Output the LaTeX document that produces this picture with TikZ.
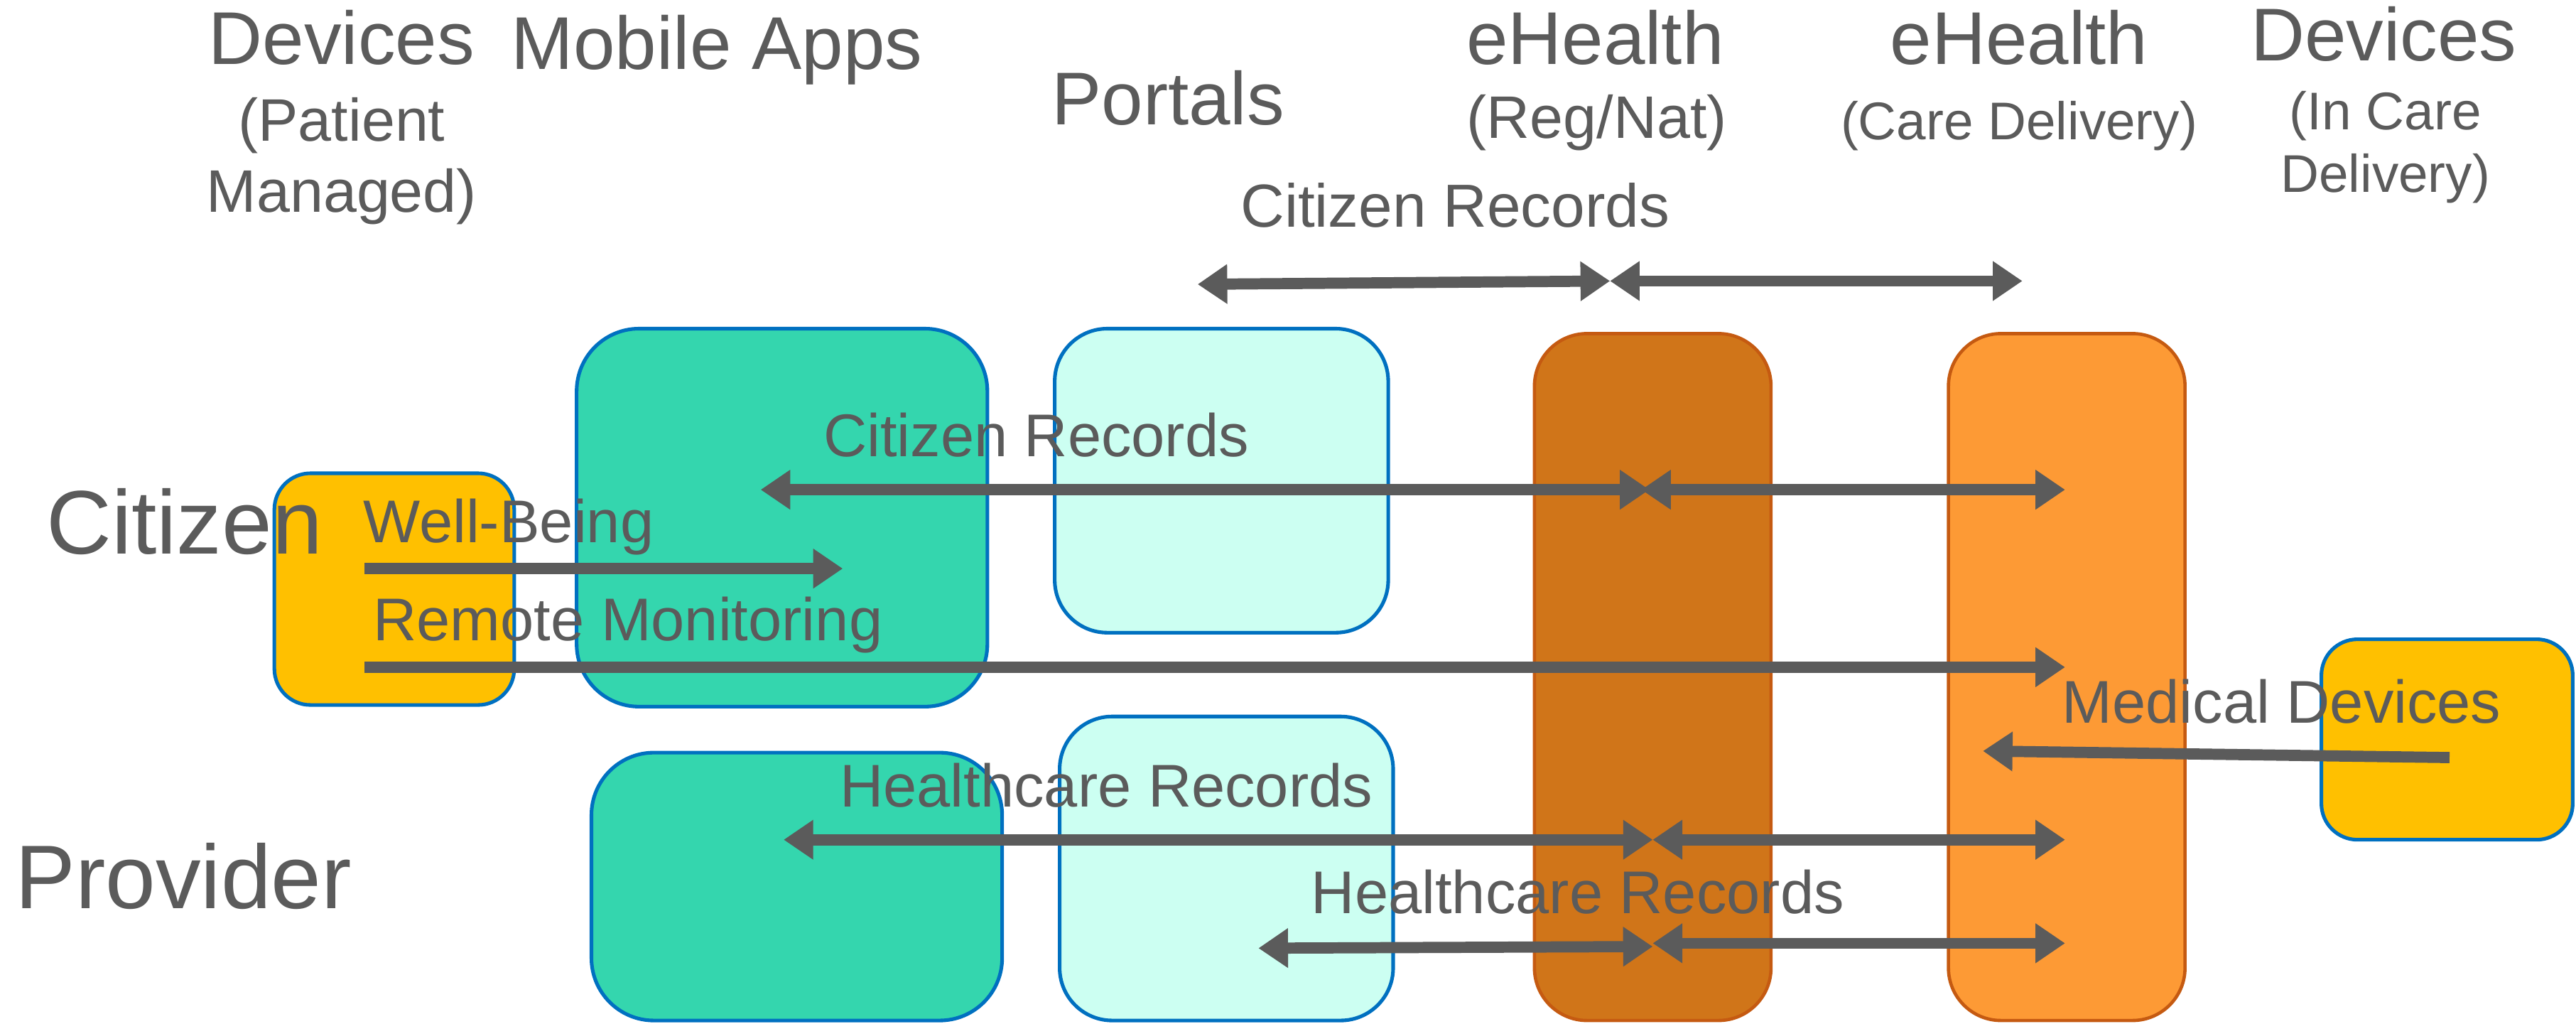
\documentclass[tikz,border=0pt]{standalone}
\usepackage{fontspec}
\setmainfont{Liberation Sans}
\usetikzlibrary{arrows.meta}
\definecolor{txtgray}{HTML}{5B5B5B}
\definecolor{arrgray}{HTML}{5B5B5B}
\definecolor{boxblue}{HTML}{0070C0}
\definecolor{gold}{HTML}{FFC000}
\definecolor{teal}{HTML}{34D6AE}
\definecolor{lcyan}{HTML}{CCFFF2}
\definecolor{dorange}{HTML}{D07519}
\definecolor{orng}{HTML}{FD9A35}
\definecolor{oborder}{HTML}{C55A11}
\newcommand{\fs}[1]{\fontsize{#1}{#1}\selectfont}
\tikzset{
  lbl/.style={inner sep=0pt, text=txtgray, font=\fs{36.7}, anchor=base west},
  ttl/.style={inner sep=0pt, text=txtgray, font=\fs{45.5}, anchor=base},
  sub/.style={inner sep=0pt, text=txtgray, font=\fs{36.5}, anchor=base},
  big/.style={inner sep=0pt, text=txtgray, font=\fs{55}, anchor=base west},
  tipA/.tip={Triangle[length=18pt,width=23pt]},
  arr/.style={draw=arrgray, line width=6.8pt, -tipA},
  darr/.style={draw=arrgray, line width=6.8pt, tipA-tipA},
  bluebox/.style={draw=boxblue, line width=2.2pt, inner sep=0pt},
  orbox/.style={draw=oborder, line width=2pt, inner sep=0pt, rounded corners=32pt, fill=#1, minimum width=144pt, minimum height=418pt},
}
\begin{document}
\begin{tikzpicture}[x=1pt,y=-1pt]
\useasboundingbox (0,0) rectangle (1568,623);
% boxes
\node[bluebox, fill=gold, rounded corners=22pt, minimum width=146pt, minimum height=141pt] (devP) at (240,358.5) {};
\node[bluebox, fill=teal, rounded corners=38pt, minimum width=250pt, minimum height=230pt] (appT) at (476,315) {};
\node[bluebox, fill=teal, rounded corners=38pt, minimum width=250pt, minimum height=163pt] (appB) at (485,539.5) {};
\node[bluebox, fill=lcyan, rounded corners=32pt, minimum width=203pt, minimum height=185pt] (porT) at (743.5,292.5) {};
\node[bluebox, fill=lcyan, rounded corners=32pt, minimum width=203pt, minimum height=185pt] (porB) at (746.5,528.5) {};
\node[orbox=dorange] (ehR) at (1006,412) {};
\node[orbox=orng] (ehC) at (1258,412) {};
\node[bluebox, fill=gold, rounded corners=22pt, minimum width=153pt, minimum height=122pt] (devC) at (1489.5,450) {};
% headings
\node[ttl] (h1) at (208,39) {Devices};
\node[sub] (h1a) at (208,86) {(Patient};
\node[sub] (h1b) at (208,129) {Managed)};
\node[lbl, font=\fs{45.5}] (h2) at (311,42) {Mobile Apps};
\node[lbl, font=\fs{45.5}] (h3) at (640,76) {Portals};
\node[ttl] (h4) at (971,39) {eHealth};
\node[sub] (h4a) at (972,84) {(Reg/Nat)};
\node[ttl] (h5) at (1229,39) {eHealth};
\node[sub, font=\fs{32.3}] (h5a) at (1229,85) {(Care Delivery)};
\node[ttl] (h6) at (1451,37) {Devices};
\node[sub, font=\fs{32.3}] (h6a) at (1452,79) {(In Care};
\node[sub, font=\fs{32.3}] (h6b) at (1452,117) {Delivery)};
\node[big] (citizen) at (28,337) {Citizen};
\node[big] (provider) at (9,553) {Provider};
% connector labels
\node[lbl, font=\fs{37}] (crTop) at (755,138) {Citizen Records};
\node[lbl] (crMid) at (501,278) {Citizen Records};
\node[lbl] (wb) at (221,330) {Well-Being};
\node[lbl] (rm) at (227,390) {Remote Monitoring};
\node[lbl] (md) at (1255,440) {Medical Devices};
\node[lbl] (hr1) at (511,491) {Healthcare Records};
\node[lbl] (hr2) at (798,556) {Healthcare Records};
% arrow end points
\coordinate (t1) at (729,173); \coordinate (t2) at (980,171); \coordinate (t3) at (1231,171);
\coordinate (c1) at (463,298); \coordinate (c2) at (1004,298); \coordinate (c2b) at (999,298); \coordinate (c3) at (1257,298);
\coordinate (w1) at (222,346); \coordinate (w2) at (513,346);
\coordinate (r1) at (222,406); \coordinate (r2) at (1257,406);
\coordinate (m1) at (1491,461); \coordinate (m2) at (1207,457);
\coordinate (p1) at (477,511); \coordinate (p2) at (1006,511); \coordinate (p3) at (1257,511);
\coordinate (q1) at (766,577); \coordinate (q2) at (1006,576); \coordinate (q2b) at (1006,574); \coordinate (q3) at (1257,574);
% arrows
\draw[darr] (t1) -- (t2);
\draw[darr] (t2) -- (t3);
\draw[darr] (c1) -- (c2);
\draw[darr] (c2b) -- (c3);
\draw[arr] (w1) -- (w2);
\draw[arr] (r1) -- (r2);
\draw[arr] (m1) -- (m2);
\draw[darr] (p1) -- (p2);
\draw[darr] (p2) -- (p3);
\draw[darr] (q1) -- (q2);
\draw[darr] (q2b) -- (q3);
\end{tikzpicture}
\end{document}
